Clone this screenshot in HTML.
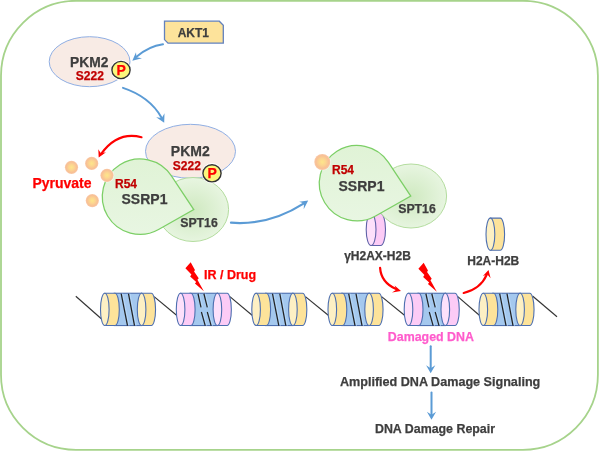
<!DOCTYPE html>
<html><head><meta charset="utf-8"><style>
html,body{margin:0;padding:0;background:#fff;width:600px;height:451px;overflow:hidden}
svg{display:block;will-change:transform}
text{font-family:"Liberation Sans",sans-serif;font-weight:bold;stroke-width:0.25px}
</style></head><body>
<svg width="600" height="451" viewBox="0 0 600 451">
<defs>
<radialGradient id="dot" cx="50%" cy="50%" r="50%">
 <stop offset="0" stop-color="#fde68a"/>
 <stop offset="0.4" stop-color="#fcd690"/>
 <stop offset="0.8" stop-color="#f8c095"/>
 <stop offset="1" stop-color="#f9c8a6"/>
</radialGradient>
<radialGradient id="spt" cx="50%" cy="52%" r="50%">
 <stop offset="0" stop-color="#cfe9c0"/>
 <stop offset="1" stop-color="#e7f5e0"/>
</radialGradient>
<linearGradient id="ssrp" x1="0" y1="0" x2="0" y2="1">
 <stop offset="0" stop-color="#e0f3d6"/>
 <stop offset="1" stop-color="#e8f6e2"/>
</linearGradient>
</defs>
<rect x="1" y="0.8" width="596.9" height="449" rx="75" ry="75" fill="none" stroke="#a6d38b" stroke-width="1.8"/>
<path d="M164.5,21.2 H219.3 L223.3,25.2 V43.1 H168 L164.5,39.6 Z" fill="#fde39b" stroke="#6281bd" stroke-width="1.3"/>
<text x="193.3" y="37" font-size="12" fill="#3e3e3e" stroke="#3e3e3e" text-anchor="middle" >AKT1</text>
<ellipse cx="89.6" cy="61.7" rx="40.4" ry="25" fill="#f8ebe5" stroke="#8faee3" stroke-width="1"/>
<text x="89.2" y="66.7" font-size="13.8" fill="#3e3e3e" stroke="#3e3e3e" text-anchor="middle" >PKM2</text>
<text x="89.8" y="79.7" font-size="12" fill="#c00000" stroke="#c00000" text-anchor="middle" >S222</text>
<circle cx="121" cy="70" r="10.3" fill="#ffffff"/>
<ellipse cx="121" cy="70" rx="9.1" ry="8.6" fill="#fbf67c" stroke="#333" stroke-width="1.4"/>
<text x="121.2" y="75" font-size="14" fill="#ff0000" stroke="#ff0000" text-anchor="middle" >P</text>
<path d="M163,44.3 Q148.63,46.34 136.51,56.76" fill="none" stroke="#5b9bd5" stroke-width="2" stroke-linecap="round"/>
<path d="M132.3,60.7 L136,52.3 L136.45,57.35 L142,58.3 Z" fill="#5b9bd5"/>
<path d="M123,87.9 Q149.76,96.76 161.62,117.72" fill="none" stroke="#5b9bd5" stroke-width="2" stroke-linecap="round"/>
<path d="M164.2,122.8 L156.2,117.2 L161.81,118.09 L164.5,113.2 Z" fill="#5b9bd5"/>
<ellipse cx="190.5" cy="151.3" rx="45" ry="27" fill="#f8ebe5" stroke="#8faee3" stroke-width="1"/>
<text x="190.3" y="156.2" font-size="14" fill="#3e3e3e" stroke="#3e3e3e" text-anchor="middle" >PKM2</text>
<ellipse cx="193" cy="209.5" rx="35.6" ry="32" fill="url(#spt)" stroke="#b3dc9e" stroke-width="1"/>
<path d="M158.55,229.52 A37.7,37.7 0 1 1 171.43,175.88 L193.77,209.61 Z" fill="url(#ssrp)" stroke="#7ccf66" stroke-width="1.25"/>
<text x="115" y="187.8" font-size="12" fill="#c00000" stroke="#c00000" text-anchor="start" >R54</text>
<text x="144.5" y="204.2" font-size="14" fill="#3e3e3e" stroke="#3e3e3e" text-anchor="middle" >SSRP1</text>
<text x="199" y="227.1" font-size="12.3" fill="#3e3e3e" stroke="#3e3e3e" text-anchor="middle" >SPT16</text>
<circle cx="212" cy="173.3" r="10.3" fill="#ffffff"/>
<ellipse cx="212" cy="173.3" rx="9.1" ry="8.6" fill="#fbf67c" stroke="#333" stroke-width="1.4"/>
<text x="212.2" y="178.3" font-size="14" fill="#ff0000" stroke="#ff0000" text-anchor="middle" >P</text>
<text x="186.8" y="170" font-size="12" fill="#c00000" stroke="#c00000" text-anchor="middle" >S222</text>
<path d="M371.1,213.5 H380.6 A4.9,16 0 0 1 380.6,245.5 H371.1 Z" fill="#fccbf6" stroke="#5f62a8" stroke-width="1.1"/>
<ellipse cx="371.1" cy="229.5" rx="4.9" ry="16" fill="#fde0fb" stroke="#5f62a8" stroke-width="1.1"/>
<path d="M490.4,218.1 H500.2 A4.4,16.1 0 0 1 500.2,250.3 H490.4 Z" fill="#fde39a" stroke="#4d6fb0" stroke-width="1.1"/>
<ellipse cx="490.4" cy="234.2" rx="4.4" ry="16.1" fill="#fdf0c4" stroke="#4d6fb0" stroke-width="1.1"/>
<ellipse cx="411" cy="196" rx="35.6" ry="32" fill="url(#spt)" stroke="#b3dc9e" stroke-width="1"/>
<path d="M375.55,216.02 A37.7,37.7 0 1 1 388.43,162.38 L410.77,196.11 Z" fill="url(#ssrp)" stroke="#7ccf66" stroke-width="1.25"/>
<text x="332" y="174.3" font-size="12" fill="#c00000" stroke="#c00000" text-anchor="start" >R54</text>
<text x="361.5" y="190.7" font-size="14" fill="#3e3e3e" stroke="#3e3e3e" text-anchor="middle" >SSRP1</text>
<text x="417" y="212.6" font-size="12.3" fill="#3e3e3e" stroke="#3e3e3e" text-anchor="middle" >SPT16</text>
<circle cx="71.5" cy="167.3" r="7.199999999999999" fill="#ffffff" opacity="0.6"/><circle cx="71.5" cy="167.3" r="6.6" fill="url(#dot)"/>
<circle cx="91.7" cy="163.4" r="7.199999999999999" fill="#ffffff" opacity="0.6"/><circle cx="91.7" cy="163.4" r="6.6" fill="url(#dot)"/>
<circle cx="107" cy="175.3" r="7.199999999999999" fill="#ffffff" opacity="0.6"/><circle cx="107" cy="175.3" r="6.6" fill="url(#dot)"/>
<circle cx="92.3" cy="200.6" r="7.199999999999999" fill="#ffffff" opacity="0.6"/><circle cx="92.3" cy="200.6" r="6.6" fill="url(#dot)"/>
<circle cx="322.3" cy="162" r="8.6" fill="#ffffff" opacity="0.6"/><circle cx="322.3" cy="162" r="8" fill="url(#dot)"/>
<text x="62" y="187.6" font-size="14" fill="#ff0000" stroke="#ff0000" text-anchor="middle" >Pyruvate</text>
<path d="M141.5,137.2 Q117.91,131.05 101.56,153.38" fill="none" stroke="#ff0000" stroke-width="2.2" stroke-linecap="round"/>
<path d="M98.7,157.6 L98.3,149.2 L100.84,153.35 L106,152.3 Z" fill="#ff0000"/>
<path d="M231,222.7 Q269.1,225.6 303.51,203.62" fill="none" stroke="#5b9bd5" stroke-width="2.2" stroke-linecap="round"/>
<path d="M308.2,200.5 L299.2,201.7 L304.01,203.57 L303.7,209.2 Z" fill="#5b9bd5"/>
<line x1="75.8" y1="296.3" x2="101.3" y2="318.7" stroke="#333" stroke-width="1.15"/>
<line x1="154.1" y1="296.6" x2="177.8" y2="316.3" stroke="#333" stroke-width="1.15"/>
<line x1="229.9" y1="296.6" x2="253.3" y2="316.3" stroke="#333" stroke-width="1.15"/>
<line x1="305.4" y1="296.6" x2="329.5" y2="316.3" stroke="#333" stroke-width="1.15"/>
<line x1="381.6" y1="296.6" x2="405.7" y2="316.3" stroke="#333" stroke-width="1.15"/>
<line x1="457.8" y1="296.6" x2="480.5" y2="316.3" stroke="#333" stroke-width="1.15"/>
<line x1="532.5" y1="296" x2="557" y2="316.7" stroke="#333" stroke-width="1.15"/>
<rect x="114.25" y="293.25" width="27.35" height="32.3" fill="#a4c8ee" stroke="#4d6fb0" stroke-width="1.1"/>
<path d="M122.7,293.75 L129,325.55 M130,293.75 L136,325.55" stroke="#b6d7f8" stroke-width="1"/>
<path d="M121.2,293.75 L127.5,325.55 M128.5,293.75 L134.5,325.55" stroke="#222" stroke-width="1.25"/>
<path d="M104.8,293.25 H115 A4.3,16.15 0 0 1 115,325.55 H104.8 Z" fill="#fde39a" stroke="#4d6fb0" stroke-width="1.1"/>
<ellipse cx="104.8" cy="309.4" rx="4.3" ry="16.15" fill="#fdf0c4" stroke="#4d6fb0" stroke-width="1.1"/>
<path d="M141.6,293.25 H151.25 A4.3,16.15 0 0 1 151.25,325.55 H141.6 Z" fill="#fde39a" stroke="#4d6fb0" stroke-width="1.1"/>
<ellipse cx="141.6" cy="309.4" rx="4.3" ry="16.15" fill="#fdf0c4" stroke="#4d6fb0" stroke-width="1.1"/>
<rect x="190.05" y="293.25" width="27.35" height="32.3" fill="#a4c8ee" stroke="#4d6fb0" stroke-width="1.1"/>
<path d="M199.5,293.75 L202.5,307.3 M202.9,312 L206.7,325.55 M205.4,293.75 L208.8,307.3 M208.8,312 L212.6,325.55" stroke="#b6d7f8" stroke-width="1"/>
<path d="M198,293.75 L201,307.3 M201.4,312 L205.2,325.55 M203.9,293.75 L207.3,307.3 M207.3,312 L211.1,325.55" stroke="#222" stroke-width="1.2"/>
<path d="M180.6,293.25 H190.8 A4.3,16.15 0 0 1 190.8,325.55 H180.6 Z" fill="#fccbf6" stroke="#4d6fb0" stroke-width="1.1"/>
<ellipse cx="180.6" cy="309.4" rx="4.3" ry="16.15" fill="#fde0fb" stroke="#4d6fb0" stroke-width="1.1"/>
<path d="M217.4,293.25 H227.05 A4.3,16.15 0 0 1 227.05,325.55 H217.4 Z" fill="#fccbf6" stroke="#4d6fb0" stroke-width="1.1"/>
<ellipse cx="217.4" cy="309.4" rx="4.3" ry="16.15" fill="#fde0fb" stroke="#4d6fb0" stroke-width="1.1"/>
<rect x="265.55" y="293.25" width="27.35" height="32.3" fill="#a4c8ee" stroke="#4d6fb0" stroke-width="1.1"/>
<path d="M274,293.75 L280.3,325.55 M281.3,293.75 L287.3,325.55" stroke="#b6d7f8" stroke-width="1"/>
<path d="M272.5,293.75 L278.8,325.55 M279.8,293.75 L285.8,325.55" stroke="#222" stroke-width="1.25"/>
<path d="M256.1,293.25 H266.3 A4.3,16.15 0 0 1 266.3,325.55 H256.1 Z" fill="#fde39a" stroke="#4d6fb0" stroke-width="1.1"/>
<ellipse cx="256.1" cy="309.4" rx="4.3" ry="16.15" fill="#fdf0c4" stroke="#4d6fb0" stroke-width="1.1"/>
<path d="M292.9,293.25 H302.55 A4.3,16.15 0 0 1 302.55,325.55 H292.9 Z" fill="#fde39a" stroke="#4d6fb0" stroke-width="1.1"/>
<ellipse cx="292.9" cy="309.4" rx="4.3" ry="16.15" fill="#fdf0c4" stroke="#4d6fb0" stroke-width="1.1"/>
<rect x="341.75" y="293.25" width="27.35" height="32.3" fill="#a4c8ee" stroke="#4d6fb0" stroke-width="1.1"/>
<path d="M350.2,293.75 L356.5,325.55 M357.5,293.75 L363.5,325.55" stroke="#b6d7f8" stroke-width="1"/>
<path d="M348.7,293.75 L355,325.55 M356,293.75 L362,325.55" stroke="#222" stroke-width="1.25"/>
<path d="M332.3,293.25 H342.5 A4.3,16.15 0 0 1 342.5,325.55 H332.3 Z" fill="#fde39a" stroke="#4d6fb0" stroke-width="1.1"/>
<ellipse cx="332.3" cy="309.4" rx="4.3" ry="16.15" fill="#fdf0c4" stroke="#4d6fb0" stroke-width="1.1"/>
<path d="M369.1,293.25 H378.75 A4.3,16.15 0 0 1 378.75,325.55 H369.1 Z" fill="#fde39a" stroke="#4d6fb0" stroke-width="1.1"/>
<ellipse cx="369.1" cy="309.4" rx="4.3" ry="16.15" fill="#fdf0c4" stroke="#4d6fb0" stroke-width="1.1"/>
<rect x="417.95" y="293.25" width="27.35" height="32.3" fill="#a4c8ee" stroke="#4d6fb0" stroke-width="1.1"/>
<path d="M427.4,293.75 L430.4,307.3 M430.8,312 L434.6,325.55 M433.3,293.75 L436.7,307.3 M436.7,312 L440.5,325.55" stroke="#b6d7f8" stroke-width="1"/>
<path d="M425.9,293.75 L428.9,307.3 M429.3,312 L433.1,325.55 M431.8,293.75 L435.2,307.3 M435.2,312 L439,325.55" stroke="#222" stroke-width="1.2"/>
<path d="M408.5,293.25 H418.7 A4.3,16.15 0 0 1 418.7,325.55 H408.5 Z" fill="#fccbf6" stroke="#4d6fb0" stroke-width="1.1"/>
<ellipse cx="408.5" cy="309.4" rx="4.3" ry="16.15" fill="#fde0fb" stroke="#4d6fb0" stroke-width="1.1"/>
<path d="M445.3,293.25 H454.95 A4.3,16.15 0 0 1 454.95,325.55 H445.3 Z" fill="#fccbf6" stroke="#4d6fb0" stroke-width="1.1"/>
<ellipse cx="445.3" cy="309.4" rx="4.3" ry="16.15" fill="#fde0fb" stroke="#4d6fb0" stroke-width="1.1"/>
<rect x="492.75" y="293.25" width="27.35" height="32.3" fill="#a4c8ee" stroke="#4d6fb0" stroke-width="1.1"/>
<path d="M501.2,293.75 L507.5,325.55 M508.5,293.75 L514.5,325.55" stroke="#b6d7f8" stroke-width="1"/>
<path d="M499.7,293.75 L506,325.55 M507,293.75 L513,325.55" stroke="#222" stroke-width="1.25"/>
<path d="M483.3,293.25 H493.5 A4.3,16.15 0 0 1 493.5,325.55 H483.3 Z" fill="#fde39a" stroke="#4d6fb0" stroke-width="1.1"/>
<ellipse cx="483.3" cy="309.4" rx="4.3" ry="16.15" fill="#fdf0c4" stroke="#4d6fb0" stroke-width="1.1"/>
<path d="M520.1,293.25 H529.75 A4.3,16.15 0 0 1 529.75,325.55 H520.1 Z" fill="#fde39a" stroke="#4d6fb0" stroke-width="1.1"/>
<ellipse cx="520.1" cy="309.4" rx="4.3" ry="16.15" fill="#fdf0c4" stroke="#4d6fb0" stroke-width="1.1"/>
<polygon points="190.67,262.37 194.96,269.91 194.06,271.41 198.73,278.2 197.45,279.85 203.85,291.16 194.96,283.62 196.17,281.96 190.14,276.46 191.42,274.58 185.39,268.17" fill="#ff0000"/>
<polygon points="423.67,262.87 427.96,270.41 427.06,271.91 431.73,278.7 430.45,280.35 436.85,291.66 427.96,284.12 429.17,282.46 423.14,276.96 424.42,275.08 418.39,268.67" fill="#ff0000"/>
<text x="204" y="278.7" font-size="12.5" fill="#ff0000" stroke="#ff0000" text-anchor="start" >IR / Drug</text>
<text x="377.5" y="259.7" font-size="12" fill="#3e3e3e" stroke="#3e3e3e" text-anchor="middle" >γH2AX-H2B</text>
<text x="493.3" y="265.3" font-size="12" fill="#3e3e3e" stroke="#3e3e3e" text-anchor="middle" >H2A-H2B</text>
<text x="430.9" y="340.8" font-size="12.4" fill="#ff5ccc" stroke="#ff5ccc" text-anchor="middle" >Damaged DNA</text>
<text x="440.1" y="386" font-size="12.6" fill="#3e3e3e" stroke="#3e3e3e" text-anchor="middle" >Amplified DNA Damage Signaling</text>
<text x="435" y="433.1" font-size="12.4" fill="#3e3e3e" stroke="#3e3e3e" text-anchor="middle" >DNA Damage Repair</text>
<path d="M380.1,267.9 Q381.05,282.38 396.06,289.12" fill="none" stroke="#ff0000" stroke-width="2.2" stroke-linecap="round"/>
<path d="M401,291 L394.6,285.4 L396.23,289.73 L392,292.5 Z" fill="#ff0000"/>
<path d="M463.7,293 Q480.45,288.92 486.81,274.59" fill="none" stroke="#ff0000" stroke-width="2.2" stroke-linecap="round"/>
<path d="M488.5,270 L482.9,276.1 L487.42,274.46 L490.6,278.3 Z" fill="#ff0000"/>
<path d="M430.7,346.2 Q430.7,357.23 430.7,367.93" fill="none" stroke="#5b9bd5" stroke-width="2" stroke-linecap="round"/>
<path d="M430.7,373.3 L426.1,365.3 L430.7,368.34 L435.3,365.3 Z" fill="#5b9bd5"/>
<path d="M431.5,392.6 Q431.5,402.71 431.5,414.34" fill="none" stroke="#5b9bd5" stroke-width="2" stroke-linecap="round"/>
<path d="M431.5,419.7 L426.9,411.7 L431.5,414.74 L436.1,411.7 Z" fill="#5b9bd5"/>
</svg></body></html>
